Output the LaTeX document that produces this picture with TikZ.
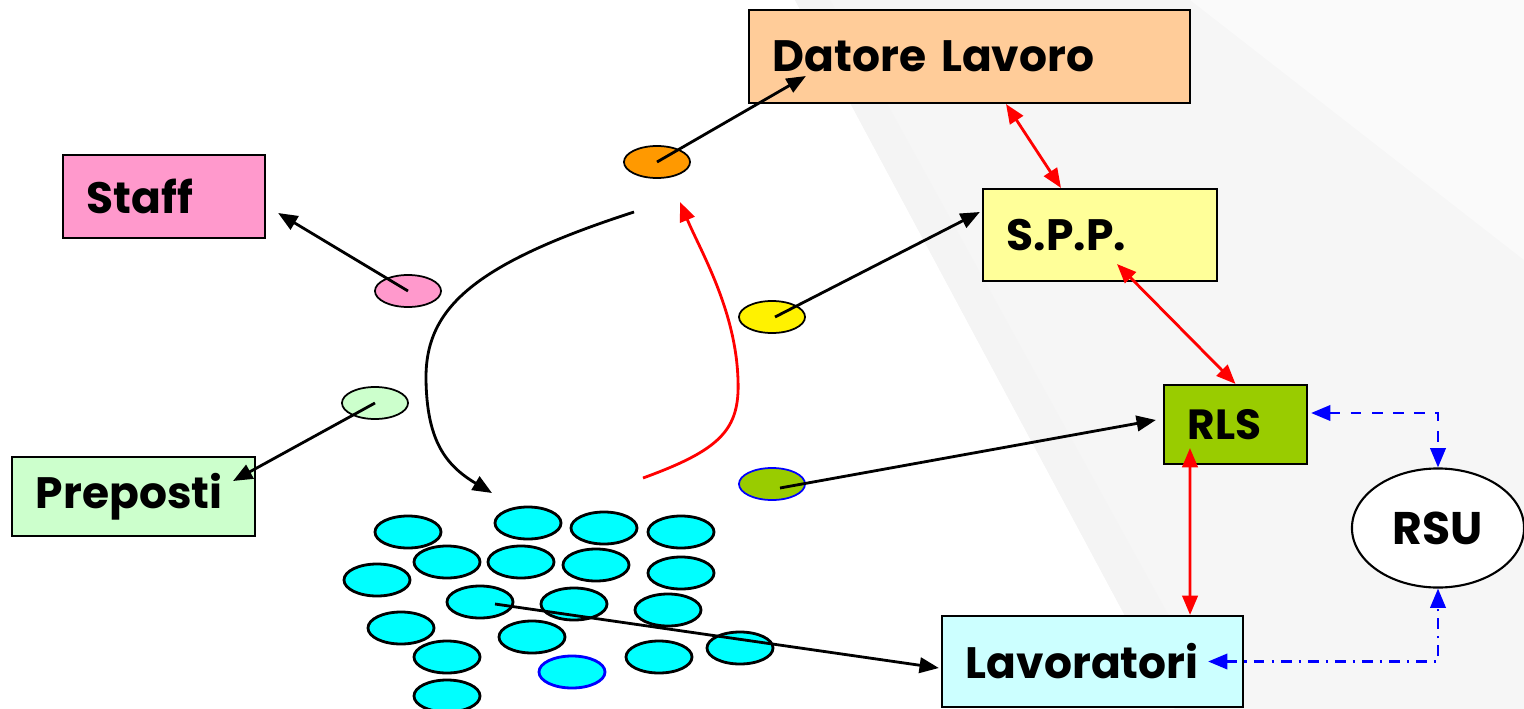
\documentclass[tikz,border=0pt]{standalone}
\usepackage{fontspec}
\setmainfont{Poppins}
\usetikzlibrary{shapes.geometric, arrows.meta}

\definecolor{peach}{HTML}{FFCC99}
\definecolor{paleyellow}{HTML}{FFFF99}
\definecolor{pink}{HTML}{FF99CC}
\definecolor{palegreen}{HTML}{CCFFCC}
\definecolor{olive}{HTML}{99CC00}
\definecolor{palecyan}{HTML}{CCFFFF}
\definecolor{aqua}{HTML}{00FFFF}
\definecolor{amber}{HTML}{FF9900}

\begin{document}
\begin{tikzpicture}[x=0.01cm, y=-0.01cm, >={Triangle[length=5.5pt,width=4.4pt]},
  box/.style={draw, line width=0.6pt, rectangle, align=left, inner xsep=0.24cm,
    font=\bfseries\fontsize{12.5}{15}\selectfont},
  dot/.style={ellipse, draw, line width=0.5pt, minimum width=0.66cm,
    minimum height=0.32cm, inner sep=0pt},
  worker/.style={dot, fill=aqua, line width=0.8pt},
  link/.style={->, line width=0.8pt},
  redlink/.style={<->, red, line width=0.8pt},
  bluelink/.style={<->, blue, line width=0.7pt}]

\useasboundingbox (0,0) rectangle (1524,709);

% Background
\fill[gray!7] (795,0) -- (1524,0) -- (1524,709) -- (1175,709) -- cycle;
\fill[gray!9] (795,0) -- (830,0) -- (1220,709) -- (1175,709) -- cycle;
\fill[gray!4] (1190,0) -- (1524,0) -- (1524,260) -- cycle;

% Boxes
\node[box, fill=peach, text width=3.93cm, minimum height=0.93cm] (datore) at (969.5,56.5) {Datore Lavoro};
\node[box, fill=paleyellow, text width=1.86cm, minimum height=0.92cm] (spp) at (1100,235) {S.P.P.};
\node[box, fill=pink, text width=1.54cm, minimum height=0.83cm] (staff) at (164,196.5) {Staff};
\node[box, fill=palegreen, text width=1.95cm, minimum height=0.79cm] (preposti) at (133.5,496.5) {Preposti};
\node[box, fill=olive, text width=0.95cm, minimum height=0.79cm,
  font=\bfseries\fontsize{12}{14}\selectfont] (rls) at (1235.5,424.5) {RLS};
\node[box, fill=palecyan, text width=2.53cm, minimum height=0.91cm] (lavoratori) at (1092.5,661.5) {Lavoratori};
\node[ellipse, draw, fill=white, line width=0.6pt, minimum width=1.72cm, minimum height=1.19cm,
  font=\bfseries\fontsize{13}{15}\selectfont] (rsu) at (1438,528) {RSU};

% Small ellipses
\node[dot, fill=amber] (dotdatore) at (657,162) {};
\node[dot, fill=pink] (dotstaff) at (408,291) {};
\node[dot, fill=palegreen] (dotpreposti) at (375,403) {};
\node[dot, fill=yellow] (dotspp) at (772,317) {};
\node[dot, fill=olive, draw=blue] (dotrls) at (772,484) {};

% Workers
\foreach \x/\y [count=\i] in {408/532, 528/523, 604/528, 681/532, 447/562, 521/562,
    596/565, 681/573, 377/580, 480/602, 574/604, 668/610, 401/628, 532/637,
    447/657, 659/657, 740/648, 447/696} {
  \node[worker] (w\i) at (\x,\y) {};
}
\node[worker, draw=blue] (wblue) at (572,672) {};

% Arrows from the ellipses
\draw[link] (dotdatore.center) -- ([xshift=-1.635cm, yshift=-0.195cm]datore.center);
\draw[link] (dotstaff.center) -- ([xshift=0.12cm, yshift=-0.165cm]staff.east);
\draw[link] (dotpreposti.center) -- ([xshift=0.995cm, yshift=0.155cm]preposti.center);
\draw[link] ([xshift=0.03cm]dotspp.center) -- ([xshift=-0.02cm, yshift=0.23cm]spp.west);
\draw[link] ([xshift=0.08cm, yshift=-0.04cm]dotrls.center) -- ([xshift=-0.07cm, yshift=0.045cm]rls.west);
\draw[link] ([xshift=0.15cm, yshift=-0.02cm]w10.center) -- ([xshift=-0.02cm, yshift=-0.065cm]lavoratori.west);

% Cycle
\coordinate (curvestart) at (634,212);
\coordinate (curveend) at (492,493);
\draw[link] (curvestart) .. controls (470,265) and (425,310) .. (426,380)
  .. controls (427,440) and (445,465) .. (curveend);
\coordinate (backstart) at (643,478);
\coordinate (backend) at (680,202);
\draw[->, red, line width=0.8pt] (backstart) .. controls (720,450) and (740,430) .. (738,380)
  .. controls (736,310) and (700,250) .. (backend);

% Red links
\draw[redlink] ([xshift=0.365cm]datore.south) -- ([xshift=-0.39cm]spp.north);
\draw[redlink] ([xshift=0.17cm, yshift=-0.29cm]spp.center) -- (rls.north);
\draw[redlink] ([xshift=-0.455cm, yshift=-0.235cm]rls.center) -- ([xshift=0.975cm]lavoratori.north);

% Blue links
\coordinate (rlsin) at ([xshift=0.03cm, yshift=0.115cm]rls.east);
\coordinate (lavin) at ([xshift=-0.36cm]lavoratori.east);
\draw[bluelink, dashed] (rlsin) -- (rsu.north |- rlsin) -- (rsu.north);
\draw[bluelink, dash dot] (lavin) -- (rsu.south |- lavin) -- (rsu.south);

\end{tikzpicture}
\end{document}
